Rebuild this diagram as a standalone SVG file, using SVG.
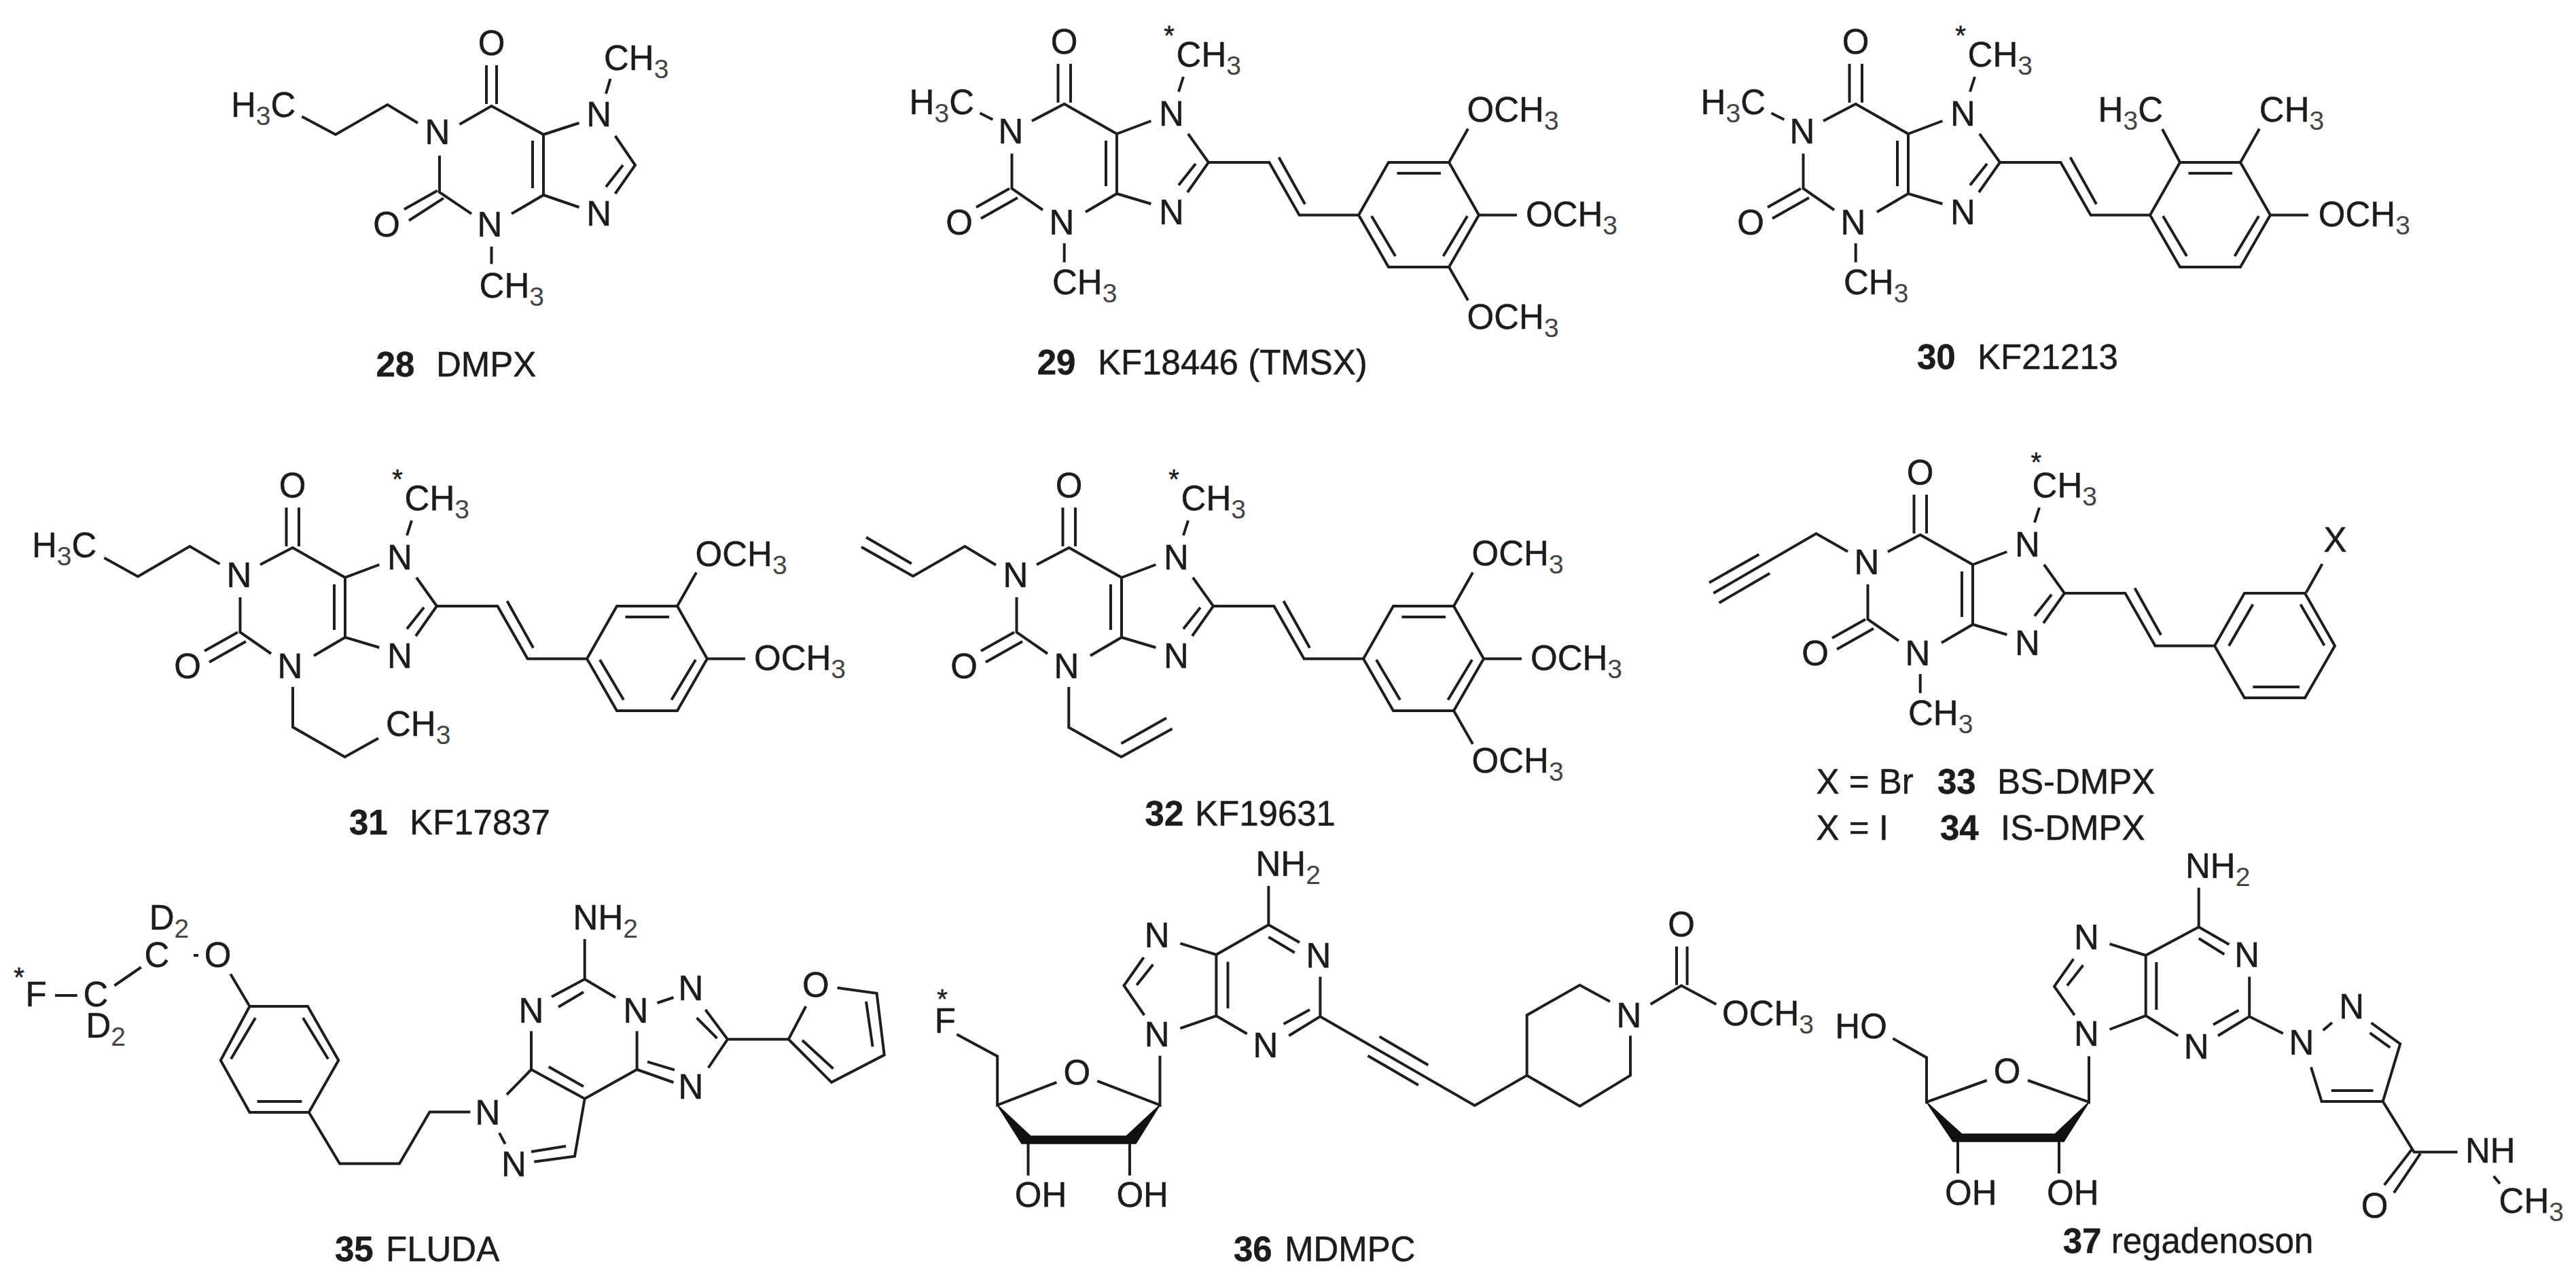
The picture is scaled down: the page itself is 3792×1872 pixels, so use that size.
<svg xmlns="http://www.w3.org/2000/svg" xmlns:xlink="http://www.w3.org/1999/xlink" width="3792" height="1872" viewBox="0 0 3792 1872">
<style>
text{font-family:"Liberation Sans",Arial,sans-serif;font-size:51px;fill:#1c1c1c;stroke:#1c1c1c;stroke-width:.5}
.c{text-anchor:middle}
.s{font-size:39px;fill:#444;stroke:none}
.k{font-size:40px;text-anchor:middle}
.l{font-size:51px}
.bd{font-weight:bold}
.b{fill:none;stroke:#1e1e1e;stroke-width:4;stroke-linejoin:miter;stroke-linecap:butt}
.w{fill:#111;stroke:#111;stroke-width:1.5}
</style>
<defs>
<path id="xan" d="M1557.5 94V151M1576 94V151M1519 178L1566.7 153L1644 197V285L1598 312M1628 207V274M1644 197L1694.4 178M1644 285L1694.4 300M1489.5 226V277.5L1535 309M1437 305L1486 277.5M1444 321.5L1498 291M1735 135L1742 113M1749 197L1779 239L1748 283M1760 241L1735 272.5M1779 239H1868.4L1912.6 316.5H2000M1882.5 231.5L1921 300.4M2000 316.5L2044 239H2133L2177 316.5L2133 393H2044Z"/>
<path id="inner" d="M2056.5 255H2121M2160 318L2124.5 377M2019 318L2054 377"/>
</defs>

<g id="mol28">
<path class="b" d="M716 96V153M731 96V153M676.5 183L723.5 156L800 198V287L753 314.6M784 207V277M800 198L852.5 181M800 287L852.5 305M647 229V283L694 314.6M595 308L644 280.5M602 324.5L653 291.6M892 138L898.5 116M905.6 200L935 243L905.6 285M917 243L892 275M723.5 363V388.5M615 181L570.4 154L494 198L444.4 171.5"/>
<text class="c" x="723.5" y="81">O</text>
<text class="c" x="644" y="212">N</text>
<text class="c" x="569" y="348">O</text>
<text class="c" x="721" y="348">N</text>
<text class="c" x="881.6" y="186">N</text>
<text class="c" x="881.6" y="332">N</text>
<text x="889" y="103">CH<tspan class="s" dy="12">3</tspan></text>
<text x="705.6" y="438">CH<tspan class="s" dy="12">3</tspan></text>
<text x="340" y="172">H<tspan class="s" dy="12">3</tspan><tspan dy="-12">C</tspan></text>
<text class="l" x="553.6" y="554"><tspan class="bd">28</tspan><tspan x="642">DMPX</tspan></text>
</g>

<g id="mol29">
<use class="b" xlink:href="#xan" href="#xan"/>
<use class="b" xlink:href="#inner" href="#inner"/>
<path class="b" d="M1442.5 166.5L1461.4 176M1566.7 358V386M2133 239L2161 189.5M2177 316.5H2233M2133 393L2161 442"/>
<text class="c" x="1566.7" y="79">O</text>
<text class="c" x="1488" y="211">N</text>
<text class="c" x="1412" y="345">O</text>
<text class="c" x="1563" y="345">N</text>
<text class="c" x="1724.5" y="184.5">N</text>
<text class="c" x="1724.5" y="330">N</text>
<text class="k" x="1721" y="66">*</text>
<text x="1731.6" y="97.6">CH<tspan class="s" dy="12">3</tspan></text>
<text x="1549" y="432.5">CH<tspan class="s" dy="12">3</tspan></text>
<text x="1338.6" y="168">H<tspan class="s" dy="12">3</tspan><tspan dy="-12">C</tspan></text>
<text x="2159.6" y="178.7">OCH<tspan class="s" dy="12">3</tspan></text>
<text x="2246" y="333">OCH<tspan class="s" dy="12">3</tspan></text>
<text x="2159.6" y="484">OCH<tspan class="s" dy="12">3</tspan></text>
<text class="l" x="1526.7" y="551"><tspan class="bd">29</tspan><tspan x="1616">KF18446 (TMSX)</tspan></text>
</g>

<g id="mol30" transform="translate(1165,0)">
<use class="b" xlink:href="#xan" href="#xan"/>
<use class="b" xlink:href="#inner" href="#inner"/>
<path class="b" d="M1442.5 166.5L1461.4 176M1566.7 358V386M2133 239L2161 189.5M2177 316.5H2233M2044 239L2018 190"/>
<text class="c" x="1566.7" y="79">O</text>
<text class="c" x="1488" y="211">N</text>
<text class="c" x="1412" y="345">O</text>
<text class="c" x="1563" y="345">N</text>
<text class="c" x="1724.5" y="184.5">N</text>
<text class="c" x="1724.5" y="330">N</text>
<text class="k" x="1721" y="66">*</text>
<text x="1731.6" y="97.6">CH<tspan class="s" dy="12">3</tspan></text>
<text x="1549" y="432.5">CH<tspan class="s" dy="12">3</tspan></text>
<text x="1338.6" y="168">H<tspan class="s" dy="12">3</tspan><tspan dy="-12">C</tspan></text>
<text x="1923.6" y="178.7">H<tspan class="s" dy="12">3</tspan><tspan dy="-12">C</tspan></text>
<text x="2160.8" y="178.7">CH<tspan class="s" dy="12">3</tspan></text>
<text x="2247.8" y="333">OCH<tspan class="s" dy="12">3</tspan></text>
<text class="l" x="1657" y="543.4"><tspan class="bd">30</tspan><tspan x="1746">KF21213</tspan></text>
</g>

<g id="mol31" transform="translate(-1136,653)">
<use class="b" xlink:href="#xan" href="#xan"/>
<use class="b" xlink:href="#inner" href="#inner"/>
<path class="b" d="M2133 239L2161 189.5M2177 316.5H2233M1459.4 177L1415.4 151L1339 195.5L1289.4 168M1567 358V417L1643.5 461L1693 433.4"/>
<text class="c" x="1566.7" y="79">O</text>
<text class="c" x="1488" y="211">N</text>
<text class="c" x="1412" y="345">O</text>
<text class="c" x="1563" y="345">N</text>
<text class="c" x="1724.5" y="184.5">N</text>
<text class="c" x="1724.5" y="330">N</text>
<text class="k" x="1721" y="66">*</text>
<text x="1731.6" y="97.6">CH<tspan class="s" dy="12">3</tspan></text>
<text x="1183" y="166.6">H<tspan class="s" dy="12">3</tspan><tspan dy="-12">C</tspan></text>
<text x="1704" y="430">CH<tspan class="s" dy="12">3</tspan></text>
<text x="2159.6" y="180">OCH<tspan class="s" dy="12">3</tspan></text>
<text x="2246" y="333">OCH<tspan class="s" dy="12">3</tspan></text>
<text class="l" x="1650" y="575"><tspan class="bd">31</tspan><tspan x="1739">KF17837</tspan></text>
</g>

<g id="mol32" transform="translate(7,653)">
<use class="b" xlink:href="#xan" href="#xan"/>
<use class="b" xlink:href="#inner" href="#inner"/>
<path class="b" d="M2133 239L2161 189.5M2177 316.5H2233M2133 393L2161 442M1459 178.5L1413.4 151L1337 195L1261 152M1334.8 176.5L1268 137.7M1566.3 358V417.6L1643.5 461L1718.6 419.6M1643.5 441.3L1710 403.8"/>
<text class="c" x="1566.7" y="79">O</text>
<text class="c" x="1488" y="211">N</text>
<text class="c" x="1412" y="345">O</text>
<text class="c" x="1563" y="345">N</text>
<text class="c" x="1724.5" y="184.5">N</text>
<text class="c" x="1724.5" y="330">N</text>
<text class="k" x="1721" y="66">*</text>
<text x="1731.6" y="97.6">CH<tspan class="s" dy="12">3</tspan></text>
<text x="2159.6" y="178.7">OCH<tspan class="s" dy="12">3</tspan></text>
<text x="2246" y="333">OCH<tspan class="s" dy="12">3</tspan></text>
<text x="2159.6" y="484">OCH<tspan class="s" dy="12">3</tspan></text>
<text class="l" x="1678.6" y="562"><tspan class="bd">32</tspan><tspan x="1752">KF19631</tspan></text>
</g>

<g id="mol33-34" transform="translate(1260,634)">
<use class="b" xlink:href="#xan" href="#xan"/>
<path class="b" d="M2021 316.6L2056.3 255.4M2126.5 255.4L2161.6 316M2056.3 377H2125M1566.7 358V386M2134.8 238L2158.4 196M1460 177.8L1413.5 151.3L1262.3 239M1256 223.5L1329.3 182M1270.6 253.3L1345.2 209.7"/>
<text class="c" x="1566.7" y="79">O</text>
<text class="c" x="1488" y="211">N</text>
<text class="c" x="1412" y="345">O</text>
<text class="c" x="1563" y="345">N</text>
<text class="c" x="1724.5" y="184.5">N</text>
<text class="c" x="1724.5" y="330">N</text>
<text class="k" x="1737.4" y="60">*</text>
<text x="1731.6" y="97.6">CH<tspan class="s" dy="12">3</tspan></text>
<text x="1549" y="432.5">CH<tspan class="s" dy="12">3</tspan></text>
<text class="c" x="2177.5" y="177.5">X</text>
<text class="l" x="1413.5" y="534">X = Br<tspan class="bd" x="1592">33</tspan><tspan x="1680">BS-DMPX</tspan></text>
<text class="l" x="1413.5" y="602">X = I<tspan class="bd" x="1596">34</tspan><tspan x="1685">IS-DMPX</tspan></text>
</g>

<g id="mol35">
<path class="b" d="M81 1465H113.7M168.4 1450.5L207.7 1423.5M285 1406H292M339.3 1433.5L367.5 1481H453L498.3 1560.6L454.7 1637H367.5L324.8 1560.6L367.5 1481"/>
<path class="b" d="M376 1498L340 1558.5M446 1498L483 1558.5M378.6 1621H444.4M454.7 1637L500 1712.6H588L632.5 1636.4H692.3M746 1611L782 1574L860.7 1617L937.6 1574M782 1517.4V1574M807.7 1570L859 1599M937.6 1517.4V1574M860.7 1382V1441M812 1467L860.7 1441L906 1468M822 1482L859 1460M967.5 1476L991.5 1468M1038.5 1486L1071 1529.5L1042.7 1571.5M1025.6 1498L1055.6 1528M1071 1529.5H1160.7L1186.3 1481M937.6 1574L991.5 1593M953 1562.6L993 1574.7M860.7 1617L846 1701.7L786.3 1709.8M833 1686.8L782 1695M735 1667.4L743.6 1683.5M1232.5 1453.7L1290.6 1461.8L1301.7 1552.5L1224 1592.8L1160.7 1529.5M1275 1474L1284.6 1540.4M1226.5 1572.7L1181 1531"/>
<text class="k" x="28" y="1452">*</text>
<text class="c" x="53" y="1481">F</text>
<text class="c" x="141" y="1481">C</text>
<text class="c" x="231" y="1423">C</text>
<text x="219.7" y="1368">D<tspan class="s" dy="12">2</tspan></text>
<text x="126.5" y="1527">D<tspan class="s" dy="12">2</tspan></text>
<text class="c" x="320.5" y="1422.5">O</text>
<text class="c" x="718" y="1655">N</text>
<text class="c" x="782" y="1505">N</text>
<text class="c" x="936" y="1505">N</text>
<text class="c" x="1017" y="1472">N</text>
<text class="c" x="1017" y="1617">N</text>
<text class="c" x="756.4" y="1730.6">N</text>
<text class="c" x="1200.9" y="1467">O</text>
<text x="843.6" y="1368">NH<tspan class="s" dy="12">2</tspan></text>
<text class="l" x="493" y="1855.7"><tspan class="bd">35</tspan><tspan x="568">FLUDA</tspan></text>
</g>

<g id="mol36">
<path class="b" d="M1867.4 1303.7V1361M1913 1387L1867.4 1361L1790.4 1405V1495M1867.4 1379L1905.8 1402M1807.5 1415.4V1484M1943.4 1437.6V1496L1897.3 1524.3M1928 1486L1889.6 1507M1835.7 1521.5L1790.4 1495L1737.4 1513.4M1790.4 1405L1737.4 1388.4M1683.6 1409L1654.5 1450.5L1684.4 1494M1697.3 1419.4L1673.3 1449.7M1707.5 1553.7V1626.3L1615.2 1590.8M1555.4 1592.8L1468.2 1626.3V1554.5L1408.4 1522.3M1513.5 1683V1730M1663 1683V1730M1943.4 1496L2170.8 1627L2247.7 1582.7V1494L2325.5 1449.7L2370 1473.9M2400 1524.3V1582.7L2325.5 1628L2247.7 1582.7M2030.6 1525.5L2102.4 1567.4M2013.5 1553.7L2088 1596.9M2429.7 1478L2475 1450.5L2526.3 1478M2468 1393V1449.7M2483.6 1393V1449.7"/>
<path class="w" d="M1468 1626L1517 1672H1658L1707.5 1626L1672 1683H1504Z"/>
<text class="k" x="1387" y="1484">*</text>
<text class="c" x="1391.3" y="1520">F</text>
<text class="c" x="1703.2" y="1394.3">N</text>
<text class="c" x="1940.9" y="1424">N</text>
<text class="c" x="1863" y="1555.6">N</text>
<text class="c" x="1703.2" y="1540">N</text>
<text class="c" x="1585.3" y="1596">O</text>
<text class="c" x="2398" y="1512">N</text>
<text class="c" x="2475" y="1378">O</text>
<text x="1848.5" y="1289">NH<tspan class="s" dy="12">2</tspan></text>
<text x="2535" y="1509.4">OCH<tspan class="s" dy="12">3</tspan></text>
<text x="1493.8" y="1776.3">OH</text>
<text x="1643.4" y="1776.3">OH</text>
<text class="l" x="1816" y="1855.7"><tspan class="bd">36</tspan><tspan x="1891">MDMPC</tspan></text>
</g>

<g id="mol37">
<path class="b" d="M3236.7 1306.5V1364.2M3281.4 1390L3236.7 1364.2L3158.7 1406V1494.8M3236.7 1381L3274.3 1404.5M3174.3 1416V1486M3311.2 1437.6V1496L3265 1524.3M3295.6 1486.8L3258 1508M3206.2 1524.3L3158.7 1494.8L3105.5 1515M3158.7 1406L3105.5 1389.2M3052.3 1411.4L3024 1451.7L3053.8 1494M3066.5 1420.6L3043 1450.5M3075 1554.5V1622L2985 1590M2924.7 1590L2836 1622V1556.5L2786.4 1528.3M2882 1680V1727M3031 1680V1727M3311.2 1496L3360.8 1521M3419.7 1516.2L3433 1505M3490.6 1505.3L3533.2 1536.4L3507.7 1621H3417.6L3402 1570.6M3488.5 1520.2L3518.3 1541.6M3431.8 1605H3493.5M3507.7 1621L3553.7 1695.6H3617.6M3551 1690.8L3509.8 1744M3563 1697.7L3524 1755.3M3670.8 1731L3680 1742"/>
<path class="w" d="M2836 1622L2888 1669H3025L3075 1622L3038 1680H2875Z"/>
<text class="c" x="3071.5" y="1397">N</text>
<text class="c" x="3307.7" y="1423.3">N</text>
<text class="c" x="3233.2" y="1558.4">N</text>
<text class="c" x="3071.5" y="1539">N</text>
<text class="c" x="2954.5" y="1593.5">O</text>
<text class="c" x="3387.8" y="1552.4">N</text>
<text class="c" x="3461.6" y="1499">N</text>
<text class="c" x="3495.6" y="1792.3">O</text>
<text x="3217" y="1291.6">NH<tspan class="s" dy="12">2</tspan></text>
<text x="2701.3" y="1528.3">HO</text>
<text x="2863" y="1773">OH</text>
<text x="3013" y="1773">OH</text>
<text x="3629" y="1711">NH</text>
<text x="3678.6" y="1785">CH<tspan class="s" dy="12">3</tspan></text>
<text class="l" x="3036.7" y="1844"><tspan class="bd">37</tspan><tspan x="3107.7">regadenoson</tspan></text>
</g>
</svg>
